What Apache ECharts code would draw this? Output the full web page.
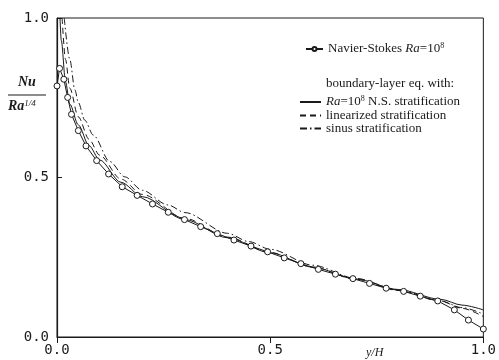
<!DOCTYPE html>
<html>
<head>
<meta charset="utf-8">
<script src="https://cdn.jsdelivr.net/npm/echarts@6/dist/echarts.min.js"></script>
<style>html,body{margin:0;padding:0;background:#fff;}#c{width:499px;height:360px;}</style>
</head>
<body>
<div id="c"></div>
<script>
// Navier-Stokes Ra=1e8 (circles)
var nsX = [0, 0.006, 0.016, 0.025, 0.034, 0.05, 0.068, 0.093, 0.121, 0.153, 0.188, 0.224, 0.261, 0.299, 0.337, 0.376, 0.415, 0.455, 0.494, 0.533, 0.572, 0.613, 0.653, 0.694, 0.733, 0.772, 0.813, 0.852, 0.893, 0.932, 0.965, 1.0];
var nsY = [0.787, 0.842, 0.808, 0.751, 0.698, 0.647, 0.599, 0.553, 0.511, 0.471, 0.444, 0.417, 0.391, 0.368, 0.346, 0.324, 0.304, 0.285, 0.267, 0.248, 0.230, 0.212, 0.197, 0.183, 0.168, 0.153, 0.143, 0.128, 0.113, 0.085, 0.053, 0.025];
// boundary-layer eq. with Ra=1e8 N.S. stratification (solid)
var blX = [0.007, 0.01, 0.02, 0.03, 0.05, 0.075, 0.1, 0.15, 0.2, 0.3, 0.4, 0.5, 0.6, 0.7, 0.8, 0.9, 0.95, 1.0];
var blY = [1.0, 0.93, 0.80, 0.73, 0.665, 0.60, 0.555, 0.485, 0.44, 0.368, 0.311, 0.264, 0.219, 0.182, 0.149, 0.118, 0.10, 0.085];
// linearized stratification (dashed)
var linX = [0.012, 0.02, 0.03, 0.05, 0.075, 0.1, 0.15, 0.2, 0.3, 0.4, 0.5, 0.6, 0.7, 0.8, 0.9, 0.95, 1.0];
var linY = [1.0, 0.87, 0.78, 0.69, 0.62, 0.57, 0.495, 0.447, 0.372, 0.313, 0.265, 0.219, 0.181, 0.146, 0.112, 0.09, 0.064];
// sinus stratification (dash-dot)
var sinX = [0.017, 0.03, 0.042, 0.05, 0.065, 0.085, 0.124, 0.159, 0.2, 0.26, 0.3, 0.4, 0.45, 0.5, 0.6, 0.7, 0.8, 0.9, 0.95, 1.0];
var sinY = [1.0, 0.87, 0.775, 0.735, 0.68, 0.633, 0.55, 0.502, 0.46, 0.414, 0.39, 0.325, 0.299, 0.275, 0.225, 0.184, 0.148, 0.113, 0.092, 0.072];
var xTicks = ['0.0', '0.5', '1.0'];
var yTicks = ['0.0', '0.5', '1.0'];

function zip(a, b) { return a.map(function (v, i) { return [v, b[i]]; }); }

var ink = '#1a1a1a';
var serif = 'Liberation Serif';
var mono = 'DejaVu Sans Mono';
var rich = {
  it: { fontFamily: serif, fontStyle: 'italic', fontSize: 13, color: ink, lineHeight: 14 },
  n: { fontFamily: serif, fontSize: 13, color: ink, lineHeight: 14 },
  sup: { fontFamily: serif, fontSize: 8, color: ink, verticalAlign: 'top', padding: [0, 0, 6, 0], lineHeight: 14 }
};

var chart = echarts.init(document.getElementById('c'), null, { renderer: 'canvas' });
chart.setOption({
  animation: false,
  backgroundColor: '#fff',
  grid: { left: 57, right: 14, top: 18, bottom: 23, show: true, borderColor: ink, borderWidth: 1 },
  xAxis: {
    type: 'value', min: 0, max: 1, interval: 0.5,
    axisLine: { show: true, lineStyle: { color: ink, width: 1.2 } },
    axisTick: { show: true, length: 6, lineStyle: { color: ink } },
    splitLine: { show: false },
    axisLabel: { fontFamily: mono, fontSize: 14, color: ink, margin: 6,
      formatter: function (v) { return xTicks[Math.round(v * 2)]; } }
  },
  yAxis: {
    type: 'value', min: 0, max: 1, interval: 0.5,
    axisLine: { show: true, lineStyle: { color: ink, width: 1.2 } },
    axisTick: { show: true, length: 5, inside: true, lineStyle: { color: ink } },
    splitLine: { show: false },
    axisLabel: { fontFamily: mono, fontSize: 14, color: ink, margin: 8,
      formatter: function (v) { return yTicks[Math.round(v * 2)]; } }
  },
  legend: [
    {
      data: ['ns'], left: 305, top: 42, itemWidth: 17, itemHeight: 5, itemGap: 0, padding: 0,
      formatter: function () { return '{n|Navier-Stokes }{it|Ra}{n|=10}{sup|8}'; },
      textStyle: { rich: rich }
    },
    {
      data: ['bl', 'lin', 'sin'], orient: 'vertical', left: 299, top: 95, itemWidth: 21, itemHeight: 5, itemGap: 0, padding: 0,
      itemStyle: { opacity: 0 },
      formatter: function (name) {
        if (name === 'bl') return '{it|Ra}{n|=10}{sup|8}{n| N.S. stratification}';
        if (name === 'lin') return '{n|linearized stratification}';
        return '{n|sinus stratification}';
      },
      textStyle: { rich: rich }
    }
  ],
  graphic: [
    { type: 'text', left: 326, top: 77, style: { text: 'boundary-layer eq. with:', font: '13px "Liberation Serif"', fill: ink } },
    { type: 'text', left: 18, top: 75, style: { text: 'Nu', font: 'italic bold 14px "Liberation Serif"', fill: ink } },
    { type: 'line', shape: { x1: 8, y1: 95, x2: 46, y2: 95 }, style: { stroke: ink, lineWidth: 1 } },
    { type: 'text', left: 8, top: 99, style: { text: '{a|Ra}{b|1/4}', rich: {
      a: { font: 'italic bold 14px "Liberation Serif"', fill: ink },
      b: { font: 'italic 9px "Liberation Serif"', fill: ink, verticalAlign: 'top', padding: [0, 0, 6, 0] } } } },
    { type: 'text', left: 366, top: 347, style: { text: 'y/H', font: 'italic 12px "Liberation Serif"', fill: ink } }
  ],
  series: [
    { name: 'ns', type: 'line', data: zip(nsX, nsY), symbol: 'circle', symbolSize: 6, showSymbol: true,
      lineStyle: { color: ink, width: 1 }, itemStyle: { color: '#fff', borderColor: ink, borderWidth: 1 }, z: 5 },
    { name: 'bl', type: 'line', data: zip(blX, blY), symbol: 'none', smooth: 0.3, smoothMonotone: 'x',
      lineStyle: { color: ink, width: 1 }, itemStyle: { color: ink } },
    { name: 'lin', type: 'line', data: zip(linX, linY), symbol: 'none', smooth: 0.3, smoothMonotone: 'x',
      lineStyle: { color: ink, width: 1, type: [6, 4] }, itemStyle: { color: ink } },
    { name: 'sin', type: 'line', data: zip(sinX, sinY), symbol: 'none', smooth: 0.3, smoothMonotone: 'x',
      lineStyle: { color: ink, width: 1, type: [7, 3, 1.5, 3] }, itemStyle: { color: ink } }
  ]
});
</script>
</body>
</html>
